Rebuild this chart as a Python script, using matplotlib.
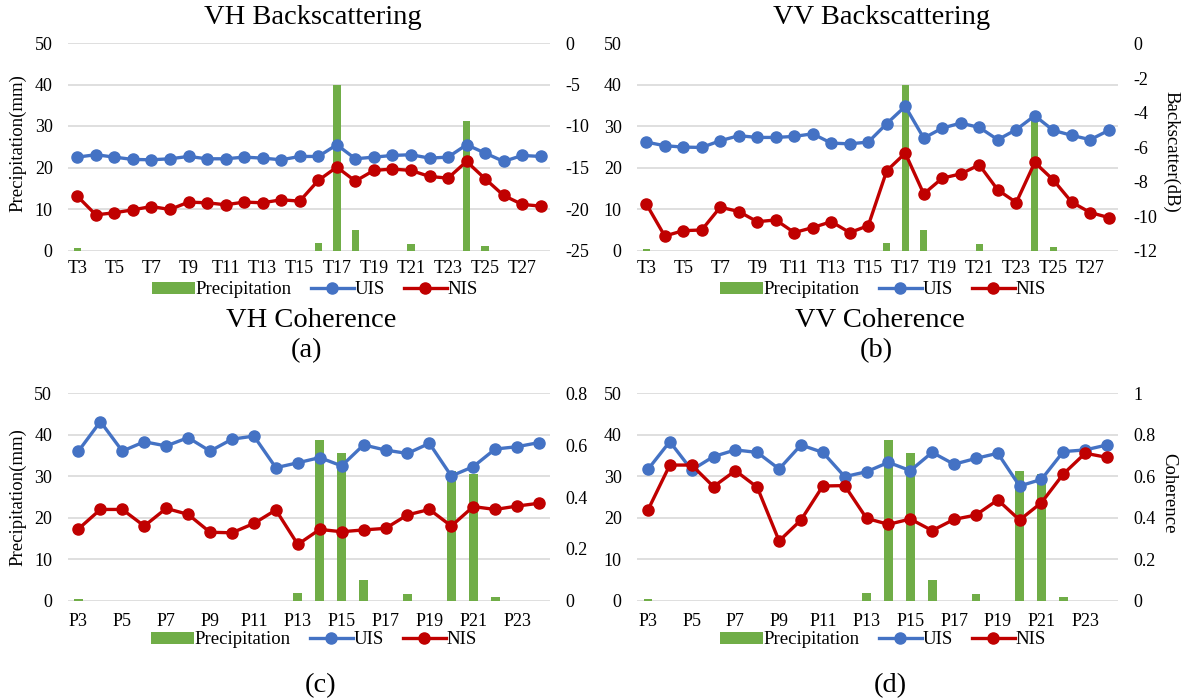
import matplotlib
matplotlib.use("Agg")
import matplotlib.pyplot as plt
from matplotlib.patches import Patch
from matplotlib.lines import Line2D
from matplotlib.ticker import FixedLocator, FuncFormatter

plt.rcParams['font.family'] = ['Liberation Serif', 'DejaVu Serif']

# ---- data -----------------------------------------------------------------
t_labels = ["T3", "T4", "T5", "T6", "T7", "T8", "T9", "T10", "T11", "T12",
            "T13", "T14", "T15", "T16", "T17", "T18", "T19", "T20", "T21",
            "T22", "T23", "T24", "T25", "T26", "T27", "T28"]
p_labels = ["P3", "P4", "P5", "P6", "P7", "P8", "P9", "P10", "P11", "P12",
            "P13", "P14", "P15", "P16", "P17", "P18", "P19", "P20", "P21",
            "P22", "P23", "P24"]

precip_t = [0.5, 0, 0, 0, 0, 0, 0, 0, 0, 0, 0, 0, 0, 1.8, 40, 5.0, 0, 0, 1.6,
            0, 0, 31.3, 1.0, 0, 0, 0]
precip_p = [0.5, 0, 0, 0, 0, 0, 0, 0, 0, 0, 1.8, 38.7, 35.5, 5.0, 0, 1.6, 0,
            31.3, 30.6, 1.0, 0, 0]

vh_bs_uis = [-13.75, -13.46, -13.75, -14.03, -14.07, -13.95, -13.67, -13.95,
             -13.95, -13.75, -13.87, -14.07, -13.67, -13.67, -12.26, -13.95,
             -13.75, -13.55, -13.46, -13.87, -13.75, -12.26, -13.26, -14.27,
             -13.55, -13.67]
vh_bs_nis = [-18.45, -20.70, -20.46, -20.10, -19.70, -20.06, -19.17, -19.25,
             -19.49, -19.17, -19.25, -18.89, -19.05, -16.56, -14.95, -16.64,
             -15.35, -15.19, -15.35, -16.08, -16.28, -14.27, -16.36, -18.37,
             -19.45, -19.65]

vv_bs_uis = [-5.71, -5.92, -6.00, -6.02, -5.63, -5.34, -5.44, -5.44, -5.38,
             -5.23, -5.77, -5.81, -5.71, -4.64, -3.64, -5.48, -4.90, -4.61,
             -4.86, -5.57, -4.99, -4.18, -5.03, -5.32, -5.57, -5.03]
vv_bs_nis = [-9.29, -11.15, -10.84, -10.80, -9.48, -9.73, -10.32, -10.22,
             -10.95, -10.66, -10.32, -10.95, -10.55, -7.37, -6.35, -8.71,
             -7.80, -7.55, -7.03, -8.48, -9.21, -6.89, -7.90, -9.19, -9.79,
             -10.08]

vh_coh_uis = [0.577, 0.691, 0.577, 0.613, 0.597, 0.629, 0.577, 0.623, 0.635,
              0.513, 0.532, 0.552, 0.520, 0.601, 0.581, 0.568, 0.607, 0.481,
              0.517, 0.585, 0.594, 0.610]
vh_coh_nis = [0.277, 0.352, 0.352, 0.288, 0.356, 0.333, 0.264, 0.262, 0.298,
              0.350, 0.217, 0.275, 0.266, 0.273, 0.279, 0.331, 0.352, 0.288,
              0.363, 0.352, 0.365, 0.376]

vv_coh_uis = [0.633, 0.767, 0.630, 0.695, 0.727, 0.715, 0.635, 0.751, 0.715,
              0.598, 0.622, 0.667, 0.627, 0.715, 0.658, 0.686, 0.711, 0.553,
              0.585, 0.719, 0.727, 0.751]
vv_coh_nis = [0.437, 0.654, 0.654, 0.550, 0.627, 0.547, 0.288, 0.389, 0.553,
              0.555, 0.397, 0.368, 0.394, 0.338, 0.392, 0.413, 0.486, 0.389,
              0.473, 0.611, 0.711, 0.691]

# ---- styling --------------------------------------------------------------
W, H = 1182, 699
GREEN = "#70AD47"
BLUE = "#4472C4"
RED = "#C00000"
GRID = "#D9D9D9"
TICK_FS = 13
LEG_FS = 13.5
LABEL_FS = 13.5
TITLE_FS = 20.5
LW = 2.4
MS = 8

fig = plt.figure(figsize=(W / 100, H / 100), dpi=100)
fig.patch.set_facecolor("white")


def px_rect(x0, y0, x1, y1):
    """Convert a pixel box (top-left origin) to figure fractions."""
    return [x0 / W, 1 - y1 / H, (x1 - x0) / W, (y1 - y0) / H]


def fig_text(x, y, s, **kw):
    fig.text(x / W, 1 - y / H, s, ha="center", va="center", **kw)


def panel(rect, labels, precip, uis, nis, rlim, rstep, xpad):
    ax = fig.add_axes(px_rect(*rect))
    n = len(labels)
    x = list(range(n))
    ax.bar(x, precip, width=0.4, color=GREEN, zorder=2)
    ax.set_xlim(-0.5, n - 0.5)
    ax.set_ylim(0, 50)
    ax.set_yticks(range(0, 51, 10))
    ax.yaxis.grid(True, color=GRID, linewidth=1.2, zorder=0)
    ax.set_axisbelow(True)
    ax.set_xticks(x[::2])
    ax.set_xticklabels(labels[::2])
    for s in ax.spines.values():
        s.set_visible(False)
    ax.tick_params(axis="both", length=0, labelsize=TICK_FS)
    ax.tick_params(axis="y", pad=11)
    ax.tick_params(axis="x", pad=xpad)

    ax2 = ax.twinx()
    ax2.plot(x, uis, color=BLUE, lw=LW, marker="o", ms=MS, zorder=3)
    ax2.plot(x, nis, color=RED, lw=LW, marker="o", ms=MS, zorder=3)
    ax2.set_ylim(*rlim)
    lo, hi = rlim
    ticks = []
    v = lo
    while v <= hi + 1e-9:
        ticks.append(round(v, 6))
        v += rstep
    ax2.yaxis.set_major_locator(FixedLocator(ticks))
    ax2.yaxis.set_major_formatter(FuncFormatter(lambda t, _: f"{t:g}"))
    for s in ax2.spines.values():
        s.set_visible(False)
    ax2.tick_params(axis="y", length=0, labelsize=TICK_FS, pad=11)
    return ax, ax2


def legend_at(cx, cy):
    handles = [
        Patch(facecolor=GREEN, edgecolor="none"),
        Line2D([0], [0], color=BLUE, lw=LW, marker="o", ms=MS),
        Line2D([0], [0], color=RED, lw=LW, marker="o", ms=MS),
    ]
    fig.legend(handles, ["Precipitation", "UIS", "NIS"], loc="center",
               bbox_to_anchor=(cx / W, 1 - cy / H), ncol=3, frameon=False,
               fontsize=LEG_FS, handlelength=2.3, handleheight=0.55,
               handletextpad=0.05, columnspacing=1.0, borderpad=0)


# (a) VH backscatter
panel((68, 43, 550, 250.5), t_labels, precip_t, vh_bs_uis, vh_bs_nis,
      (-25, 0), 5, 7)
# (b) VV backscatter
panel((637, 43.5, 1118, 250.7), t_labels, precip_t, vv_bs_uis, vv_bs_nis,
      (-12, 0), 2, 7)
# (c) VH coherence
panel((67.5, 393.3, 550, 600.7), p_labels, precip_p, vh_coh_uis,
      vh_coh_nis, (0, 0.8), 0.2, 9)
# (d) VV coherence
panel((637, 393.3, 1118, 600.7), p_labels, precip_p, vv_coh_uis,
      vv_coh_nis, (0, 1.0), 0.2, 9)

legend_at(315, 290)
legend_at(883, 290)
legend_at(314, 640)
legend_at(883, 640)

# axis titles
fig_text(18, 143, "Precipitation(mm)", rotation=90, fontsize=LABEL_FS)
fig_text(18, 497, "Precipitation(mm)", rotation=90, fontsize=LABEL_FS)
fig_text(1171, 152, "Backscatter(dB)", rotation=-90, fontsize=LABEL_FS)
fig_text(1169, 493, "Coherence", rotation=-90, fontsize=LABEL_FS)

# panel titles and tags
fig_text(313, 17, "VH Backscattering", fontsize=TITLE_FS)
fig_text(882, 17, "VV Backscattering", fontsize=TITLE_FS)
fig_text(311, 321, "VH Coherence", fontsize=TITLE_FS)
fig_text(880, 321, "VV Coherence", fontsize=TITLE_FS)
fig_text(307, 351, "(a)", fontsize=TITLE_FS)
fig_text(876, 351, "(b)", fontsize=TITLE_FS)
fig_text(321, 686, "(c)", fontsize=TITLE_FS)
fig_text(890, 686, "(d)", fontsize=TITLE_FS)

fig.savefig("out.png", dpi=100, facecolor="white")
